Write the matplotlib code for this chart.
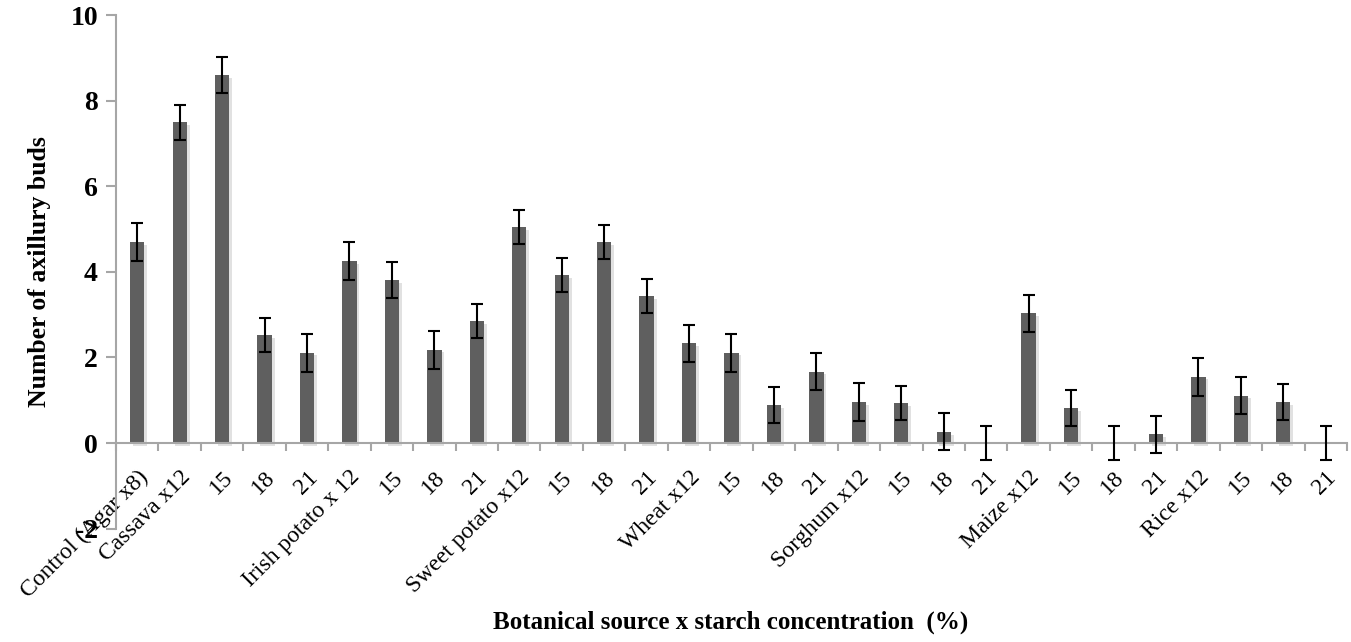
import numpy as np
import matplotlib
matplotlib.use("Agg")
import matplotlib.pyplot as plt
import matplotlib.patheffects as pe

# data
labels = ["Control (Agar x8)", "Cassava x12", "15", "18", "21",
          "Irish potato x 12", "15", "18", "21",
          "Sweet potato x12", "15", "18", "21",
          "Wheat x12", "15", "18", "21",
          "Sorghum x12", "15", "18", "21",
          "Maize x12", "15", "18", "21",
          "Rice x12", "15", "18", "21"]
buds = [4.69, 7.49, 8.60, 2.52, 2.11,
        4.25, 3.81, 2.18, 2.85,
        5.05, 3.92, 4.69, 3.44,
        2.33, 2.11, 0.89, 1.67,
        0.96, 0.93, 0.26, 0.0,
        3.03, 0.82, 0.0, 0.20,
        1.55, 1.11, 0.96, 0.0]
err = [0.44, 0.40, 0.43, 0.40, 0.44,
       0.44, 0.43, 0.44, 0.40,
       0.40, 0.40, 0.40, 0.40,
       0.43, 0.44, 0.43, 0.43,
       0.44, 0.40, 0.43, 0.40,
       0.44, 0.43, 0.40, 0.43,
       0.44, 0.44, 0.43, 0.40]

plt.rcParams['font.family'] = ['Liberation Serif', 'DejaVu Serif']

fig = plt.figure(figsize=(13.51, 6.42), dpi=100)
ax = fig.add_axes([0.0859, 0.1766, 0.9111, 0.8000])

x = np.arange(len(buds))
bars = ax.bar(x, buds, width=0.34, color="#5f5f5f", zorder=2)
for b in bars:
    b.set_path_effects([pe.SimplePatchShadow(offset=(2, -2), shadow_rgbFace="#c4c4c4", alpha=0.5),
                        pe.Normal()])
ax.errorbar(x, buds, yerr=err, fmt="none", ecolor="black", elinewidth=1.5,
            capsize=4.5, capthick=1.5, zorder=3)

ax.set_xlim(-0.5, len(buds) - 0.5)
ax.set_ylim(-2, 10)
ax.set_yticks([-2, 0, 2, 4, 6, 8, 10])
ax.set_yticklabels(["-2", "0", "2", "4", "6", "8", "10"], fontsize=20, fontweight="bold")

ax.spines["top"].set_visible(False)
ax.spines["right"].set_visible(False)
ax.spines["bottom"].set_position(("data", 0))
for s in ("left", "bottom"):
    ax.spines[s].set_color("#a6a6a6")
    ax.spines[s].set_linewidth(1.5)
ax.tick_params(axis="y", direction="out", length=7, width=1.5, color="#a6a6a6", pad=6)

ax.set_xticks(x)
ax.set_xticks(np.arange(-0.5, len(buds)), minor=True)
ax.tick_params(axis="x", which="major", length=0, pad=17)
ax.tick_params(axis="x", which="minor", direction="out", length=6, width=1.5, color="#a6a6a6")
ax.set_xticklabels(labels, rotation=45, ha="right", rotation_mode="anchor", fontsize=17)

ax.set_ylabel("Number of axillury buds", fontsize=18.5, fontweight="bold", labelpad=14)
fig.text(0.541, 0.031, "Botanical source x starch concentration  (%)", ha="center", va="center",
         fontsize=18, fontweight="bold")

fig.savefig("out.png", dpi=100)
